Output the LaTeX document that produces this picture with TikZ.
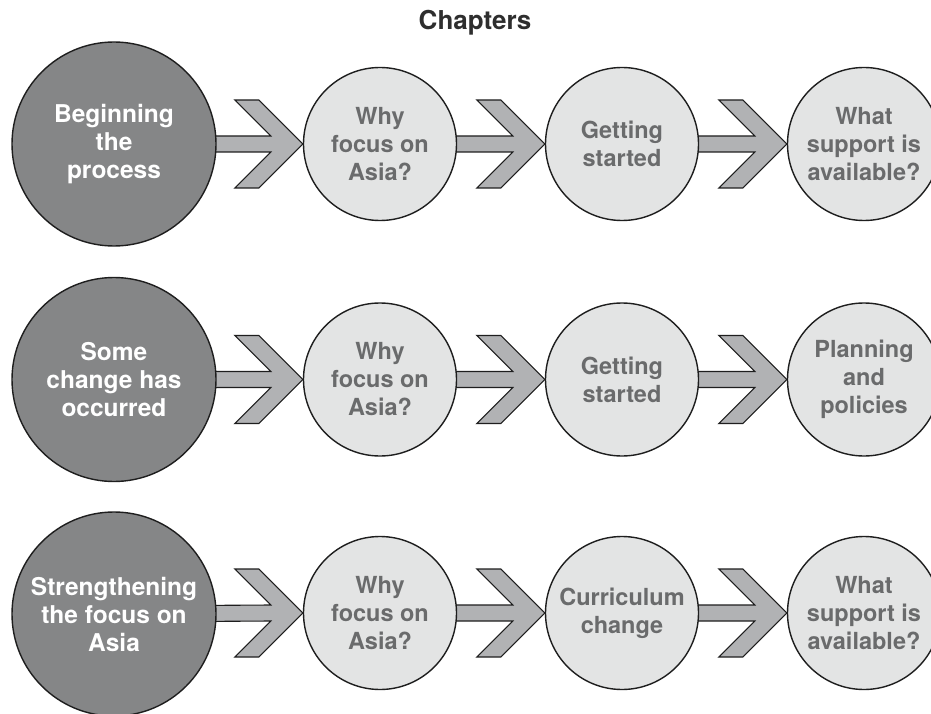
\documentclass[tikz,border=0pt]{standalone}
\usepackage{fontspec}
\setmainfont{TeX Gyre Heros}
\usetikzlibrary{calc,backgrounds}
\definecolor{darkfill}{HTML}{858687}
\definecolor{lightfill}{HTML}{E3E4E4}
\definecolor{arrowfill}{HTML}{B1B2B4}
\definecolor{lighttext}{HTML}{6A6B6C}
\definecolor{edgecol}{HTML}{1E1E1E}
\definecolor{titlecol}{HTML}{2E2E2E}
\tikzset{
  darkcirc/.style={circle, draw=edgecol, line width=1.4pt, fill=darkfill, minimum size=204pt, inner sep=0pt,
    text=white, align=center, font=\fontsize{24.5}{28}\selectfont\bfseries},
  lightcirc/.style={circle, draw=edgecol, line width=1.4pt, fill=lightfill, minimum size=153pt, inner sep=0pt,
    text=lighttext, align=center, font=\fontsize{23.5}{28}\selectfont\bfseries},
  chevron/.style={draw=edgecol, line width=1.1pt, fill=arrowfill, line join=miter},
  titlestyle/.style={text=titlecol, font=\fontsize{26}{30}\selectfont\bfseries, inner sep=0pt}
}
\newcommand\chevarrow[2]{%
  \draw[chevron] ($(#2.west)+(-44,-44)$) -- (#2.west) -- ($(#2.west)+(-44,44)$)
    -- ($(#2.west)+(-68,44)$) -- ($(#2.west)+(-32,8)$) -- ($(#1.center)+(0,8)$)
    -- ($(#1.center)+(0,-8)$) -- ($(#2.west)+(-32,-8)$) -- ($(#2.west)+(-68,-44)$) -- cycle;}
\begin{document}
\begin{tikzpicture}[x=1pt,y=-1pt]
\useasboundingbox (0,0) rectangle (931,714);
\node[titlestyle, anchor=base] (title) at (475,30) {Chapters};
% row 1
\node[darkcirc] (a1) at (114,144) {Beginning\\the\\process};
\node[lightcirc] (b1) at (380,144) {Why\\focus on\\Asia?};
\node[lightcirc] (c1) at (622,144) {Getting\\started};
\node[lightcirc] (d1) at (864,144) {What\\support is\\available?};
% row 2
\node[darkcirc] (a2) at (114,379.5) {Some\\change has\\occurred};
\node[lightcirc] (b2) at (380,379.5) {Why\\focus on\\Asia?};
\node[lightcirc] (c2) at (622,379.5) {Getting\\started};
\node[lightcirc] (d2) at (864,379.5) {Planning\\and\\policies};
% row 3
\node[darkcirc] (a3) at (114,614) {Strengthening\\the focus on\\Asia};
\node[lightcirc] (b3) at (380,613) {Why\\focus on\\Asia?};
\node[lightcirc] (c3) at (622,613) {Curriculum\\change};
\node[lightcirc] (d3) at (864,613) {What\\support is\\available?};
\begin{scope}[on background layer]
\fill[white] (0,0) rectangle (931,714);
\chevarrow{a1}{b1}\chevarrow{b1}{c1}\chevarrow{c1}{d1}
\chevarrow{a2}{b2}\chevarrow{b2}{c2}\chevarrow{c2}{d2}
\chevarrow{a3}{b3}\chevarrow{b3}{c3}\chevarrow{c3}{d3}
\end{scope}
\end{tikzpicture}
\end{document}
